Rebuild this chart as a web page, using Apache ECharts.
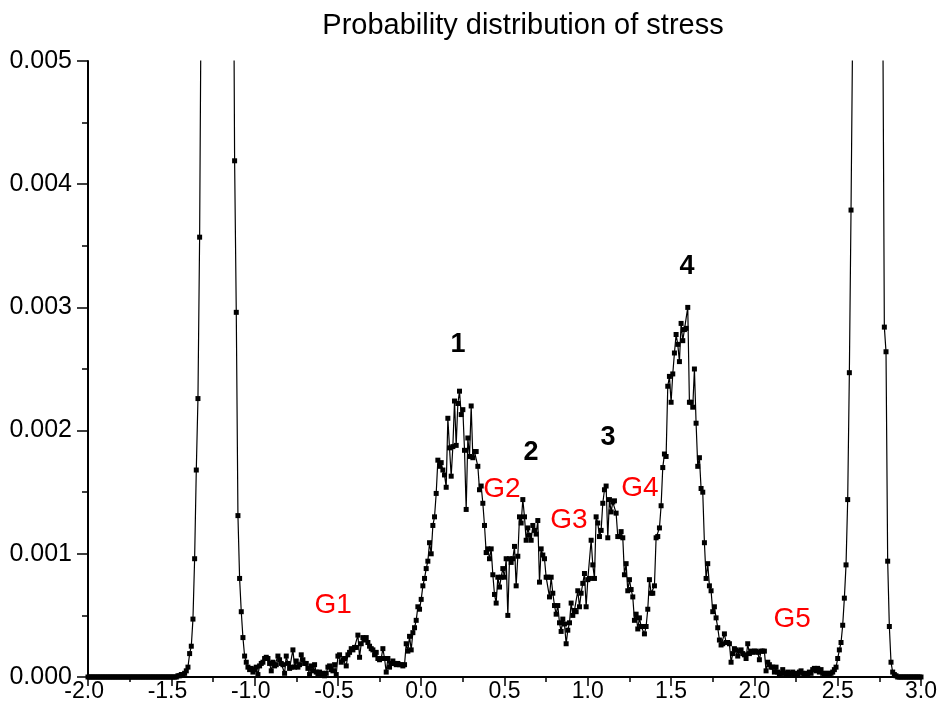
<!DOCTYPE html>
<html>
<head>
<meta charset="utf-8">
<title>Probability distribution of stress</title>
<script src="https://cdn.jsdelivr.net/npm/echarts@6/dist/echarts.min.js"></script>
<style>
  html, body { margin: 0; padding: 0; background: #ffffff; }
  #chart { width: 940px; height: 724px; }
</style>
</head>
<body>
<div id="chart"></div>
<script>
// Histogram bin width along the stress axis
const STEP = 0.01;

// Probability density per bin, stress -2.00 … -1.01
const densityM2toM1 = [
  0, 0, 0, 0, 0, 0, 0, 0, 0, 0,
  0, 0, 0, 0, 0, 0, 0, 0, 0, 0,
  0, 0, 0, 0, 0, 0, 0, 0, 0, 0,
  0, 0, 0, 0, 0, 0, 0, 0, 0, 0,
  0, 0, 0, 0, 0, 0, 0, 0, 0, 0,
  0, 0, 0, 0,
  0.00001, 0.00001, 0.00002, 0.00002, 0.00003, 0.00005,
  0.00008, 0.00019, 0.00025, 0.00047, 0.00096, 0.00168, 0.00226, 0.00357, 0.0058, 0.0074,
  0.0089, 0.0102, 0.0113, 0.0121, 0.0127, 0.0130, 0.0131, 0.0129, 0.0125, 0.0119,
  0.0112, 0.0104, 0.0097, 0.0090, 0.0083, 0.0077, 0.0073, 0.0069, 0.00419, 0.00296,
  0.00131, 0.00080, 0.00053, 0.00032, 0.00017, 0.00012, 0.00008, 0.00006, 0.00007, 0.00004
];

// stress -1.00 … -0.01
const densityM1to0 = [
  0.00006, 0.00008, 0.00002, 0.00009, 0.00011, 0.00012, 0.00015, 0.00016, 0.00015, 0.00011,
  0.00005, 0.00012, 0.00009, 0.00010, 0.00017, 0.00014, 0.00011, 0.00010, 0.00003, 0.00017,
  0.00011, 0.00007, 0.00008, 0.00022, 0.00008, 0.00013, 0.00008, 0.00010, 0.00018, 0.00014,
  0.00011, 0.00011, 0.00007, 0.00002, 0.00009, 0.00005, 0.00010, 0.00004, 0.00002, 0.00004,
  0.00002, 0.00003, 0.00001, 0.00003, 0.00008, 0.00009, 0.00006, 0.00005, 0.00010, 0.00002,
  0.00017, 0.00018, 0.00012, 0.00014, 0.00015, 0.00009, 0.00018, 0.00020, 0.00023, 0.00022,
  0.00024, 0.00024, 0.00034, 0.00016, 0.00027, 0.00032, 0.00030, 0.00032, 0.00028, 0.00025,
  0.00023, 0.00022, 0.00018, 0.00020, 0.00015, 0.00014, 0.00015, 0.00023, 0.00015, 0.00004,
  0.00015, 0.00008, 0.00011, 0.00013, 0.00011, 0.00010, 0.00011, 0.00010, 0.00010, 0.00009,
  0.00010, 0.00027, 0.00021, 0.00033, 0.00022, 0.00036, 0.00040, 0.00046, 0.00057, 0.00055
];

// stress 0.00 … 0.99
const density0to1 = [
  0.00063, 0.00074, 0.00080, 0.00088, 0.00094, 0.00109, 0.00100, 0.00123, 0.00130, 0.00149,
  0.00176, 0.00171, 0.00174, 0.00168, 0.00164, 0.00154, 0.00210, 0.00186, 0.00163, 0.00187,
  0.00224, 0.00188, 0.00222, 0.00232, 0.00213, 0.00217, 0.00184, 0.00136, 0.00194, 0.00179,
  0.00220, 0.00178, 0.00183, 0.00183, 0.00171, 0.00152, 0.00155, 0.00141, 0.00123, 0.00101,
  0.00104, 0.00096, 0.00104, 0.00083, 0.00067, 0.00060, 0.00081, 0.00073, 0.00081, 0.00088,
  0.00081, 0.00096, 0.00050, 0.00096, 0.00093, 0.00096, 0.00106, 0.00074, 0.00098, 0.00130,
  0.00125, 0.00144, 0.00130, 0.00111, 0.00121, 0.00115, 0.00111, 0.00123, 0.00119, 0.00116,
  0.00127, 0.00077, 0.00104, 0.00099, 0.00096, 0.00081, 0.00081, 0.00065, 0.00081, 0.00068,
  0.00058, 0.00051, 0.00058, 0.00044, 0.00037, 0.00047, 0.00043, 0.00027, 0.00038, 0.00044,
  0.00060, 0.00050, 0.00054, 0.00053, 0.00070, 0.00057, 0.00068, 0.00076, 0.00084, 0.00057
];

// stress 1.00 … 1.99
const density1to2 = [
  0.00079, 0.00080, 0.00111, 0.00091, 0.00080, 0.00130, 0.00125, 0.00114, 0.00119, 0.00141,
  0.00152, 0.00155, 0.00113, 0.00144, 0.00134, 0.00142, 0.00143, 0.00133, 0.00114, 0.00114,
  0.00118, 0.00113, 0.00083, 0.00092, 0.00070, 0.00079, 0.00071, 0.00065, 0.00046, 0.00051,
  0.00039, 0.00048, 0.00041, 0.00041, 0.00035, 0.00041, 0.00055, 0.00079, 0.00068, 0.00068,
  0.00074, 0.00113, 0.00114, 0.00121, 0.00139, 0.00170, 0.00181, 0.00179, 0.00236, 0.00244,
  0.00223, 0.00246, 0.00263, 0.00278, 0.00270, 0.00256, 0.00287, 0.00273, 0.00282, 0.00283,
  0.00300, 0.00223, 0.00223, 0.00219, 0.00250, 0.00206, 0.00171, 0.00178, 0.00153, 0.00150,
  0.00109, 0.00080, 0.00092, 0.00074, 0.00070, 0.00053, 0.00057, 0.00048, 0.00040, 0.00030,
  0.00026, 0.00027, 0.00035, 0.00028, 0.00028, 0.00027, 0.00012, 0.00019, 0.00023, 0.00022,
  0.00017, 0.00021, 0.00022, 0.00019, 0.00018, 0.00015, 0.00027, 0.00019, 0.00021, 0.00020
];

// stress 2.00 … 3.00
const density2to3 = [
  0.00021, 0.00021, 0.00020, 0.00014, 0.00021, 0.00021, 0.00021, 0.00005, 0.00012, 0.00010,
  0.00008, 0.00008, 0.00004, 0.00008, 0.00004, 0.00002, 0.00003, 0.00006, 0.00003, 0.00002,
  0.00004, 0.00002, 0.00003, 0.00004, 0.00002, 0.00003, 0.00002, 0.00004, 0.00005, 0.00003,
  0.00002, 0.00003, 0.00002, 0.00004, 0.00003, 0.00006, 0.00007, 0.00005, 0.00007, 0.00004,
  0.00006, 0.00003, 0.00002, 0.00003, 0.00003, 0.00002, 0.00003, 0.00004, 0.00006, 0.00008,
  0.00015, 0.00022, 0.00028, 0.00042, 0.00064, 0.00091, 0.00144, 0.00247, 0.00379, 0.0053,
  0.0075, 0.0093, 0.0108, 0.0120, 0.0128, 0.0133, 0.0135, 0.0134, 0.0130, 0.0124,
  0.0116, 0.0106, 0.0096, 0.0086, 0.0077, 0.0069, 0.0062, 0.0056, 0.00284, 0.00264,
  0.00094, 0.00041, 0.00012, 0.00004, 0.00002, 0.00001, 0, 0, 0, 0,
  0, 0, 0, 0, 0, 0, 0, 0, 0, 0, 0
];

// Peak numbers and gap labels, placed in (stress, density) coordinates
const peakLabels = ['1', '2', '3', '4'];
const peakAt = [[0.221, 0.00270], [0.659, 0.00182], [1.121, 0.00194], [1.595, 0.00333]];
const gapLabels = ['G1', 'G2', 'G3', 'G4', 'G5'];
const gapAt = [[-0.529, 0.000584], [0.485, 0.00152], [0.887, 0.00127], [1.313, 0.00153], [2.226, 0.00047]];

const segments = [
  { start: -2.0, values: densityM2toM1 },
  { start: -1.0, values: densityM1to0 },
  { start: 0.0, values: density0to1 },
  { start: 1.0, values: density1to2 },
  { start: 2.0, values: density2to3 }
];

const curve = [];
segments.forEach(seg => {
  seg.values.forEach((v, i) => {
    curve.push([+(seg.start + i * STEP).toFixed(2), v]);
  });
});

const FONT = 'Liberation Sans, Arial, sans-serif';
const X_LABEL_SIZE = 23;

const plainText = { textBorderWidth: 0, textBorderColor: 'transparent', textShadowBlur: 0 };

const noteData = [];
peakLabels.forEach((t, i) => noteData.push({
  value: peakAt[i], name: t,
  label: Object.assign({ color: '#000000', fontWeight: 'bold', fontSize: 27 }, plainText)
}));
gapLabels.forEach((t, i) => noteData.push({
  value: gapAt[i], name: t,
  label: Object.assign({ color: '#ff0000', fontWeight: 'normal', fontSize: 28 }, plainText)
}));

const chart = echarts.init(document.getElementById('chart'), null, { renderer: 'canvas' });

chart.setOption({
  animation: false,
  backgroundColor: '#ffffff',
  title: {
    text: 'Probability distribution of stress',
    left: 518,
    top: 6,
    textAlign: 'center',
    textStyle: { fontFamily: FONT, fontSize: 29, fontWeight: 'normal', color: '#000000' }
  },
  grid: { left: 88, right: 19, top: 61, bottom: 47, containLabel: false },
  xAxis: {
    type: 'value',
    min: -2.0,
    max: 3.0,
    interval: 0.5,
    axisLine: { show: true, onZero: false, lineStyle: { color: '#000000', width: 2 } },
    axisTick: { show: true, inside: false, length: 9, lineStyle: { color: '#000000', width: 1.5 } },
    minorTick: { show: true, splitNumber: 2, length: 5, lineStyle: { color: '#000000', width: 1.5 } },
    splitLine: { show: false },
    axisLabel: {
      color: '#000000', fontFamily: FONT, fontSize: X_LABEL_SIZE, margin: 3,
      // negative labels keep the digits centred on the tick, the minus hangs left
      formatter: v => v < 0 ? '{n|' + v.toFixed(1) + '}{pad|-}' : v.toFixed(1),
      rich: {
        n: { color: '#000000', fontFamily: FONT, fontSize: X_LABEL_SIZE },
        pad: { color: 'rgba(0,0,0,0)', fontFamily: FONT, fontSize: X_LABEL_SIZE }
      }
    }
  },
  yAxis: {
    type: 'value',
    min: 0,
    max: 0.005,
    interval: 0.001,
    axisLine: { show: true, onZero: false, lineStyle: { color: '#000000', width: 2 } },
    axisTick: { show: true, inside: false, length: 11, lineStyle: { color: '#000000', width: 1.5 } },
    minorTick: { show: true, splitNumber: 2, length: 6, lineStyle: { color: '#000000', width: 1.5 } },
    splitLine: { show: false },
    axisLabel: {
      color: '#000000', fontFamily: FONT, fontSize: 25, margin: 16,
      formatter: v => v.toFixed(3)
    }
  },
  series: [
    {
      type: 'line',
      data: curve,
      clip: true,
      showSymbol: true,
      symbol: 'rect',
      symbolSize: 5,
      lineStyle: { color: '#000000', width: 1.2 },
      itemStyle: { color: '#000000' },
      emphasis: { disabled: true },
      silent: true,
      z: 2
    },
    {
      type: 'scatter',
      data: noteData,
      symbolSize: 0,
      silent: true,
      clip: false,
      itemStyle: { color: '#000000', opacity: 1 },
      label: {
        show: true,
        position: 'inside',
        fontFamily: FONT,
        textBorderWidth: 0,
        formatter: p => p.name
      },
      z: 5
    }
  ]
});
</script>
</body>
</html>
